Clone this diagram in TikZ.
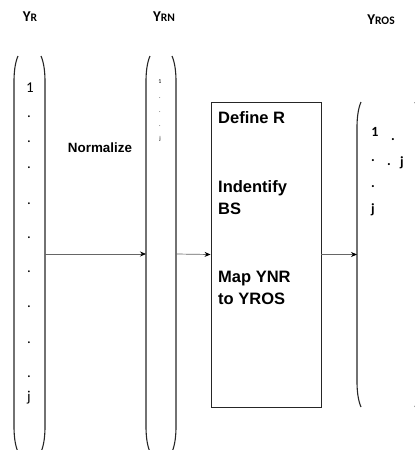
\documentclass[tikz,border=0pt]{standalone}
\usepackage{fontspec}
\setmainfont{Carlito}
\newfontfamily\arialf{Liberation Sans}
\usetikzlibrary{arrows.meta,calc}
\tikzset{
  paren/.style={line width=1.1pt, draw=black!85},
  conn/.style={draw=black!60, line width=0.7pt, -{Stealth[length=6pt,width=5pt,color=black]}},
  holder/.style={inner sep=0pt, outer sep=0pt},
  hdr/.style={inner sep=0pt, font=\bfseries\fontsize{15}{15}\selectfont},
  bigtxt/.style={inner sep=0pt, font=\fontsize{15}{15}\selectfont},
  tinytxt/.style={inner sep=0pt, font=\fontsize{6}{6}\selectfont},
  rtxt/.style={inner sep=0pt, font=\bfseries\fontsize{14}{14}\selectfont},
  boxtxt/.style={inner sep=0pt, anchor=base west, font=\arialf\bfseries\fontsize{16.5}{16.5}\selectfont},
  procbox/.style={draw=black!85, line width=0.9pt, inner sep=0pt}
}
\newcommand\leftparen[1]{%
  \draw[paren] ($(#1.north west)+(4,0)$) .. controls +(-3,7) and +(0,-10) .. ($(#1.north west)+(0,26)$)
    -- ($(#1.south west)+(0,-26)$) .. controls +(0,10) and +(-3,-7) .. ($(#1.south west)+(4,0)$);}
\newcommand\rightparen[1]{%
  \draw[paren] ($(#1.north east)+(-4,0)$) .. controls +(3,7) and +(0,-10) .. ($(#1.north east)+(0,26)$)
    -- ($(#1.south east)+(0,-26)$) .. controls +(0,10) and +(3,-7) .. ($(#1.south east)+(-4,0)$);}
\newcommand\smallcap[2]{#1{\fontsize{11.5}{11.5}\selectfont #2}}
\begin{document}
\begin{tikzpicture}[x=1pt,y=-1pt]
\useasboundingbox (0,0) rectangle (415,450);
% bracket holders
\node[holder, minimum width=31pt, minimum height=396pt] (yr) at (29.5,254) {};
\node[holder, minimum width=30pt, minimum height=396pt] (yrn) at (161,254) {};
\node[holder, minimum width=62pt, minimum height=305pt] (yros) at (388,254.5) {};
\node[procbox, minimum width=110pt, minimum height=305pt] (box) at (266,254.5) {};
\leftparen{yr}\rightparen{yr}
\leftparen{yrn}\rightparen{yrn}
\leftparen{yros}\rightparen{yros}
% headers
\node[hdr] (h1) at (30,17) {\smallcap{Y}{R}};
\node[hdr] (h2) at (164,17) {\smallcap{Y}{RN}};
\node[hdr] (h3) at (381,20) {\smallcap{Y}{ROS}};
% left bracket contents
\node[bigtxt] (a1) at (30,88) {1};
\foreach \yy [count=\i] in {117,142,168,204,238,272,307,343,377}
  \node[bigtxt] (ad\i) at (29,\yy) {.};
\node[bigtxt] (aj) at (29,398) {j};
% second bracket contents
\node[tinytxt] (b1) at (160,82) {1};
\foreach \yy [count=\i] in {98,112,126}
  \node[tinytxt] (bd\i) at (160,\yy) {.};
\node[tinytxt] (bj) at (160,139) {j};
% third bracket contents
\node[rtxt] (c1) at (375,132) {1};
\node[rtxt] (cd1) at (393,140) {.};
\node[rtxt] (cd2) at (373,161) {.};
\node[rtxt] (cd3) at (389,165) {.};
\node[rtxt] (cj1) at (402,163) {j};
\node[rtxt] (cd4) at (373,187) {.};
\node[rtxt] (cj2) at (373,210) {j};
% normalize label
\node[inner sep=0pt, font=\arialf\bfseries\fontsize{13.4}{13.4}\selectfont] (norm) at (100,148) {Normalize};
% box text
\node[boxtxt] (t1) at (218,123.5) {Define R};
\node[boxtxt] (t2) at (218,192.5) {Indentify};
\node[boxtxt] (t3) at (218,214.5) {BS};
\node[boxtxt] (t4) at (218,282.5) {Map YNR};
\node[boxtxt] (t5) at (218,304.5) {to YROS};
% connectors
\draw[conn] (yr.east) -- (yrn.west);
\draw[conn] (yrn.east) -- (box.west);
\draw[conn] (box.east) -- (yros.west);
\end{tikzpicture}
\end{document}
